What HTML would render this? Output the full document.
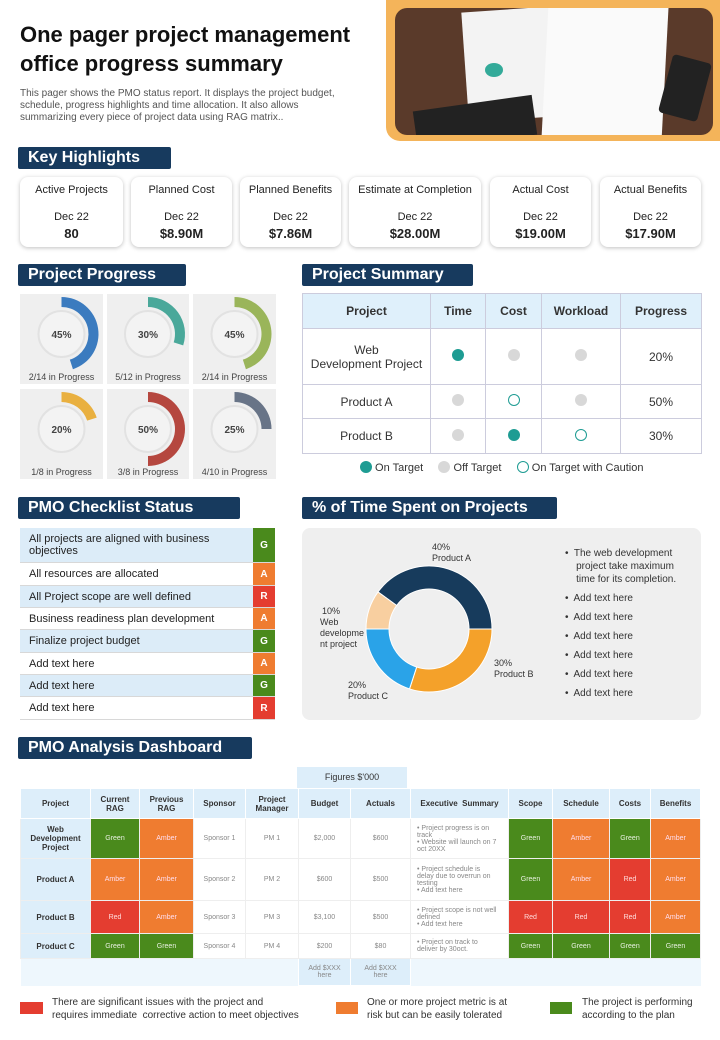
<!DOCTYPE html>
<html><head><meta charset="utf-8">
<style>
*{box-sizing:border-box;margin:0;padding:0}
body{width:720px;height:1040px;background:#fff;font-family:"Liberation Sans",sans-serif;position:relative;overflow:hidden;color:#222}
.a{position:absolute}
.hdr{position:absolute;background:#173a5e;color:#fff;font-weight:bold;font-size:16px;padding-left:10px;line-height:22px;border-radius:2px}
.card{position:absolute;top:177px;height:70px;border-radius:8px;background:#fff;box-shadow:0 1px 4px rgba(0,0,0,.25);text-align:center;font-size:11px}
.card .t{margin-top:7px}.card .d{margin-top:15px}.card .v{font-weight:bold;font-size:13px;margin-top:3px}
.ck{position:absolute;left:20px;width:255px;font-size:11px;color:#222;border-bottom:1px solid #d8d8d8}
.ck .l{position:absolute;left:9px;top:50%;transform:translateY(-50%)}
.ck .r{position:absolute;right:0;top:0;bottom:0;width:22px;color:#fff;font-weight:bold;font-size:10px;text-align:center;display:flex;align-items:center;justify-content:center}
table.st{position:absolute;left:302px;top:293px;width:400px;border-collapse:collapse;font-size:12px}
table.st td{border:1px solid #ccd;text-align:center;color:#333}
.dot{display:inline-block;width:12px;height:12px;border-radius:50%}
table.db{position:absolute;left:20px;top:788px;width:680px;border-collapse:collapse;font-size:7px;table-layout:fixed}
table.db td{border:1px solid #eee;text-align:center;color:#888}
table.db th{background:#ddeefa;font-size:8px;color:#333;border:1px solid #fff;height:30px}
.G{background:#4a8a1c;color:#e8f0e0!important}.A{background:#ef7c30;color:#fde!important}.R{background:#e43d30;color:#fdd!important}
.pn{background:#ddeefa;color:#333!important;font-weight:bold;font-size:8px}
</style></head><body>
<div class="a" style="left:20px;top:20px;font-size:22px;font-weight:bold;line-height:29px;color:#111">One pager project management<br>office progress summary</div>
<div class="a" style="left:20px;top:88px;width:335px;font-size:10px;color:#555;line-height:12px">This pager shows the PMO status report. It displays the project budget, schedule, progress highlights and time allocation. It also allows summarizing every piece of project data using RAG matrix..</div>
<div class="a" style="left:386px;top:0;width:334px;height:141px;background:#f4b45a;border-radius:0 0 0 14px"></div>
<div class="a" style="left:395px;top:8px;width:318px;height:127px;background:#5a3a2a;border-radius:12px;overflow:hidden">
<div class="a" style="left:70px;top:0;width:130px;height:110px;background:#f3f3f3;transform:rotate(-4deg)"></div>
<div class="a" style="left:150px;top:-5px;width:120px;height:140px;background:#fafafa;transform:rotate(3deg)"></div>
<div class="a" style="left:90px;top:55px;width:18px;height:14px;border-radius:50%;background:#3a9"></div>
<div class="a" style="left:20px;top:95px;width:120px;height:40px;background:#222;transform:rotate(-8deg)"></div>
<div class="a" style="left:270px;top:50px;width:40px;height:60px;background:#222;border-radius:4px;transform:rotate(15deg)"></div>
</div>

<div class="hdr" style="left:18px;top:147px;width:153px">Key Highlights</div>
<div class="card" style="left:20px;width:103px"><div class="t">Active Projects</div><div class="d">Dec 22</div><div class="v">80</div></div>
<div class="card" style="left:131px;width:101px"><div class="t">Planned Cost</div><div class="d">Dec 22</div><div class="v">$8.90M</div></div>
<div class="card" style="left:240px;width:101px"><div class="t">Planned Benefits</div><div class="d">Dec 22</div><div class="v">$7.86M</div></div>
<div class="card" style="left:349px;width:132px"><div class="t">Estimate at Completion</div><div class="d">Dec 22</div><div class="v">$28.00M</div></div>
<div class="card" style="left:490px;width:101px"><div class="t">Actual Cost</div><div class="d">Dec 22</div><div class="v">$19.00M</div></div>
<div class="card" style="left:600px;width:101px"><div class="t">Actual Benefits</div><div class="d">Dec 22</div><div class="v">$17.90M</div></div>

<div class="hdr" style="left:18px;top:264px;width:168px">Project Progress</div>
<svg class="a" id="prog" style="left:0;top:0" width="300" height="490"></svg>

<div class="hdr" style="left:302px;top:264px;width:171px">Project Summary</div>
<table class="st">
<tr style="height:35px;background:#dff0fb;font-weight:bold"><td style="width:128px">Project</td><td style="width:55px">Time</td><td style="width:56px">Cost</td><td style="width:79px">Workload</td><td>Progress</td></tr>
<tr style="height:56px"><td>Web<br>Development Project</td><td><span class="dot" style="background:#1e9c93"></span></td><td><span class="dot" style="background:#d8d8d8"></span></td><td><span class="dot" style="background:#d8d8d8"></span></td><td>20%</td></tr>
<tr style="height:34px"><td>Product A</td><td><span class="dot" style="background:#d8d8d8"></span></td><td><span class="dot" style="border:1px solid #1e9c93"></span></td><td><span class="dot" style="background:#d8d8d8"></span></td><td>50%</td></tr>
<tr style="height:35px"><td>Product B</td><td><span class="dot" style="background:#d8d8d8"></span></td><td><span class="dot" style="background:#1e9c93"></span></td><td><span class="dot" style="border:1px solid #1e9c93"></span></td><td>30%</td></tr>
</table>
<div class="a" style="left:360px;top:461px;font-size:11px;color:#333;white-space:nowrap">
<span class="dot" style="background:#1e9c93;vertical-align:-2px"></span> On Target&nbsp;&nbsp;&nbsp;&nbsp; <span class="dot" style="background:#d8d8d8;vertical-align:-2px"></span> Off Target&nbsp;&nbsp;&nbsp;&nbsp; <span class="dot" style="border:1px solid #1e9c93;vertical-align:-2px"></span> On Target with Caution</div>

<div class="hdr" style="left:18px;top:497px;width:222px">PMO Checklist Status</div>
<div id="checklist"></div>

<div class="hdr" style="left:302px;top:497px;width:255px">% of Time Spent on Projects</div>
<div class="a" style="left:302px;top:528px;width:399px;height:192px;background:#efefef;border-radius:8px"></div>
<svg class="a" id="timechart" style="left:302px;top:528px" width="260" height="192"></svg>
<div class="a" style="left:565px;top:547px;width:130px;font-size:10px;color:#333;line-height:13px">
<div>•&nbsp; The web development<br>&nbsp;&nbsp;&nbsp; project take maximum<br>&nbsp;&nbsp;&nbsp; time for its completion.</div>
<div style="margin-top:6px">•&nbsp; Add text here</div><div style="margin-top:6px">•&nbsp; Add text here</div><div style="margin-top:6px">•&nbsp; Add text here</div><div style="margin-top:6px">•&nbsp; Add text here</div><div style="margin-top:6px">•&nbsp; Add text here</div><div style="margin-top:6px">•&nbsp; Add text here</div></div>

<div class="hdr" style="left:18px;top:737px;width:234px">PMO Analysis Dashboard</div>
<div class="a" style="left:297px;top:767px;width:110px;height:21px;background:#ddeefa;font-size:9px;text-align:center;line-height:21px;color:#333">Figures $'000</div>
<table class="db">
<colgroup><col style="width:70px"><col style="width:49px"><col style="width:54px"><col style="width:52px"><col style="width:53px"><col style="width:52px"><col style="width:60px"><col style="width:98px"><col style="width:44px"><col style="width:57px"><col style="width:41px"><col style="width:50px"></colgroup>
<tr><th>Project</th><th>Current<br>RAG</th><th>Previous<br>RAG</th><th>Sponsor</th><th>Project<br>Manager</th><th>Budget</th><th>Actuals</th><th>Executive&nbsp; Summary</th><th>Scope</th><th>Schedule</th><th>Costs</th><th>Benefits</th></tr>
<tr style="height:40px"><td class="pn">Web<br>Development<br>Project</td><td class="G">Green</td><td class="A">Amber</td><td>Sponsor 1</td><td>PM 1</td><td>$2,000</td><td>$600</td><td style="text-align:left;padding-left:6px;padding-right:10px">• Project progress is on track<br>• Website will launch on 7 oct 20XX</td><td class="G">Green</td><td class="A">Amber</td><td class="G">Green</td><td class="A">Amber</td></tr>
<tr style="height:42px"><td class="pn">Product A</td><td class="A">Amber</td><td class="A">Amber</td><td>Sponsor 2</td><td>PM 2</td><td>$600</td><td>$500</td><td style="text-align:left;padding-left:6px;padding-right:10px">• Project schedule is delay due to overrun on testing<br>• Add text here</td><td class="G">Green</td><td class="A">Amber</td><td class="R">Red</td><td class="A">Amber</td></tr>
<tr style="height:33px"><td class="pn">Product B</td><td class="R">Red</td><td class="A">Amber</td><td>Sponsor 3</td><td>PM 3</td><td>$3,100</td><td>$500</td><td style="text-align:left;padding-left:6px;padding-right:10px">• Project scope is not well defined<br>• Add text here</td><td class="R">Red</td><td class="R">Red</td><td class="R">Red</td><td class="A">Amber</td></tr>
<tr style="height:25px"><td class="pn">Product C</td><td class="G">Green</td><td class="G">Green</td><td>Sponsor 4</td><td>PM 4</td><td>$200</td><td>$80</td><td style="text-align:left;padding-left:6px;padding-right:10px">• Project on track to deliver by 30oct.</td><td class="G">Green</td><td class="G">Green</td><td class="G">Green</td><td class="G">Green</td></tr>
<tr style="height:27px;background:#eef7fd"><td style="border:none"></td><td style="border:none"></td><td style="border:none"></td><td style="border:none"></td><td style="border:none"></td><td style="background:#ddeefa;border:1px solid #fff">Add $XXX<br>here</td><td style="background:#ddeefa;border:1px solid #fff">Add $XXX<br>here</td><td style="border:none"></td><td style="border:none"></td><td style="border:none"></td><td style="border:none"></td><td style="border:none"></td></tr>
</table>

<div class="a" style="left:20px;top:1002px;width:23px;height:12px;background:#e43d30"></div>
<div class="a" style="left:52px;top:996px;font-size:10px;line-height:13px;color:#333">There are significant issues with the project and<br>requires immediate&nbsp; corrective action to meet objectives</div>
<div class="a" style="left:336px;top:1002px;width:22px;height:12px;background:#ef7c30"></div>
<div class="a" style="left:367px;top:996px;font-size:10px;line-height:13px;color:#333">One or more project metric is at<br>risk but can be easily tolerated</div>
<div class="a" style="left:550px;top:1002px;width:22px;height:12px;background:#4a8a1c"></div>
<div class="a" style="left:582px;top:996px;font-size:10px;line-height:13px;color:#333">The project is performing<br>according to the plan</div>

<script>
const progPercents=[45,30,45,20,50,25];
const progLabels=["2/14 in Progress","5/12 in Progress","2/14 in Progress","1/8 in Progress","3/8 in Progress","4/10 in Progress"];
const progColors=["#3b7bbf","#4aa89a","#9ab55a","#e9b040","#b5473f","#687487"];
const timeShares=[40,30,20,10];
const timeNames=["Product A","Product B","Product C","Web developme nt project"];
const timeColors=["#173b5c","#f4a12a","#2aa3e8","#f8cfa0"];
const checkItems=["All projects are aligned with business objectives","All resources are allocated","All Project scope are well defined","Business readiness plan development","Finalize project budget","Add text here","Add text here","Add text here"];
const checkRag=["G","A","R","A","G","A","G","R"];

const NS="http://www.w3.org/2000/svg";
function mk(p,t,a){const e=document.createElementNS(NS,t);for(const k in a)e.setAttribute(k,a[k]);p.appendChild(e);return e;}
function arc(cx,cy,r0,r1,a0,a1){const rad=d=>(d-90)*Math.PI/180;const p=(r,a)=>[cx+r*Math.cos(rad(a)),cy+r*Math.sin(rad(a))];const L=(a1-a0)>180?1:0;const [x1,y1]=p(r1,a0),[x2,y2]=p(r1,a1),[x3,y3]=p(r0,a1),[x4,y4]=p(r0,a0);return `M${x1},${y1}A${r1},${r1} 0 ${L} 1 ${x2},${y2}L${x3},${y3}A${r0},${r0} 0 ${L} 0 ${x4},${y4}Z`;}

const ps=document.getElementById('prog');
const cellX=[20,107,193],cellY=[294,389],cellW=[83,82,83];
progPercents.forEach((v,i)=>{
 const c=i%3,r=Math.floor(i/3);const x=cellX[c],y=cellY[r],cx=x+cellW[c]/2,cy=y+40;
 const bg=mk(ps,'rect',{x:x,y:y,width:cellW[c],height:90,fill:'#efefef'});
 
 
 const ring=mk(ps,'circle',{cx:cx,cy:cy,r:23,fill:'#f3f3f3',stroke:'#e2e2e2','stroke-width':2});
 
 
 const a=mk(ps,'path',{d:arc(cx,cy,27,37,0,v/100*360),fill:progColors[i]});
 
 
 const t=mk(ps,'text',{x:cx,y:cy+4,'text-anchor':'middle','font-size':10,'font-weight':'bold',fill:'#444'});t.textContent=v+'%';
 
 
 const l=mk(ps,'text',{x:cx,y:y+86,'text-anchor':'middle','font-size':9,fill:'#444'});l.textContent=progLabels[i];
 
 
});

const ts=document.getElementById('timechart');
const tcx=127,tcy=101;let start=306;
const lblPos=[[130,22,'start'],[192,138,'start'],[46,160,'start'],[18,86,'start']];
timeShares.forEach((v,i)=>{
 const sweep=v/100*360;
 const p=mk(ts,'path',{d:arc(tcx,tcy,40,63,start,start+sweep),fill:timeColors[i],stroke:'#fff','stroke-width':1});
 
 
 start+=sweep;
 const [lx,ly,an]=lblPos[i];
 const t=mk(ts,'text',{x:lx,y:ly,'font-size':9,fill:'#333','text-anchor':an});
 
 
 const lines=[v+'%'].concat(i===3?['Web','developme','nt project']:[timeNames[i]]);
 lines.forEach((s,k)=>{const ts2=mk(t,'tspan',{x:lx+(i===3&&k===0?2:0),dy:k?11:0});ts2.textContent=s;});
});

const cl=document.getElementById('checklist');
const rowTop=[528,563,586,608,630,653,675,697,720];
const ragCol={G:'#4a8a1c',A:'#ef7c30',R:'#e43d30'};
checkItems.forEach((s,i)=>{
 const d=document.createElement('div');d.className='ck';
 
 
 d.style.top=rowTop[i]+'px';d.style.height=(rowTop[i+1]-rowTop[i])+'px';
 d.style.background=i%2===0?'#dcecf8':'#fff';
 d.innerHTML='<div class="l" style="width:200px;line-height:12px">'+s+'</div><div class="r" style="background:'+ragCol[checkRag[i]]+'">'+checkRag[i]+'</div>';
 cl.appendChild(d);
});
</script>
</body></html>
